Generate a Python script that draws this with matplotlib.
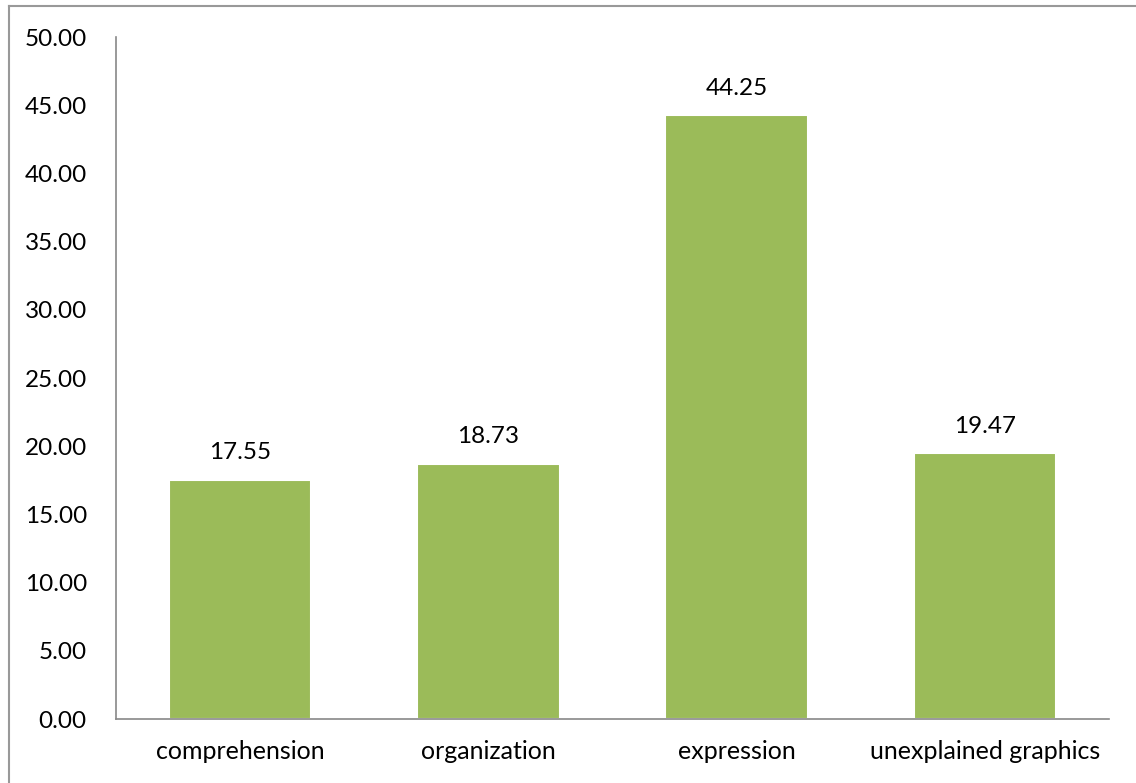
import numpy as np
import matplotlib.pyplot as plt
from matplotlib.lines import Line2D

categories = ['comprehension', 'organization', 'expression', 'unexplained graphics']
values = [17.55, 18.73, 44.25, 19.47]
yticks = [0, 5, 10, 15, 20, 25, 30, 35, 40, 45, 50]

plt.rcParams['font.family'] = ['Lato', 'DejaVu Sans']

fig = plt.figure(figsize=(11.36, 7.83), dpi=100)
ax = fig.add_axes([116 / 1136, 1 - 719 / 783, (1109 - 116) / 1136, (719 - 37) / 783])

x = np.arange(len(categories))
bars = ax.bar(x, values, width=0.575, color='#9BBB59', edgecolor='white', linewidth=1.5)

# valeurs au-dessus des barres
for rect, v in zip(bars, values):
    ax.annotate('%.2f' % v, (rect.get_x() + rect.get_width() / 2, v),
                xytext=(0, 12), textcoords='offset points',
                ha='center', va='bottom', fontsize=17.5, color='#000000')

ax.set_xlim(-0.5, len(categories) - 0.5)
ax.set_ylim(0, 50)
ax.set_yticks(yticks)
ax.set_yticklabels(['%.2f' % t for t in yticks], fontsize=17.5)
ax.set_xticks(x)
ax.set_xticklabels(categories, fontsize=18)
ax.tick_params(axis='x', length=0, pad=15)
ax.tick_params(axis='y', length=0, pad=21)

for s in ['top', 'right']:
    ax.spines[s].set_visible(False)
for s in ['left', 'bottom']:
    ax.spines[s].set_color('#888888')
    ax.spines[s].set_linewidth(1.2)

# cadre du graphique
fig.add_artist(Line2D([9 / 1136, 9 / 1136], [0, 1 - 6 / 783], color='#999999', lw=1.5))
fig.add_artist(Line2D([9 / 1136, 1], [1 - 6 / 783, 1 - 6 / 783], color='#999999', lw=1.5))

fig.savefig('out.png', dpi=100)
